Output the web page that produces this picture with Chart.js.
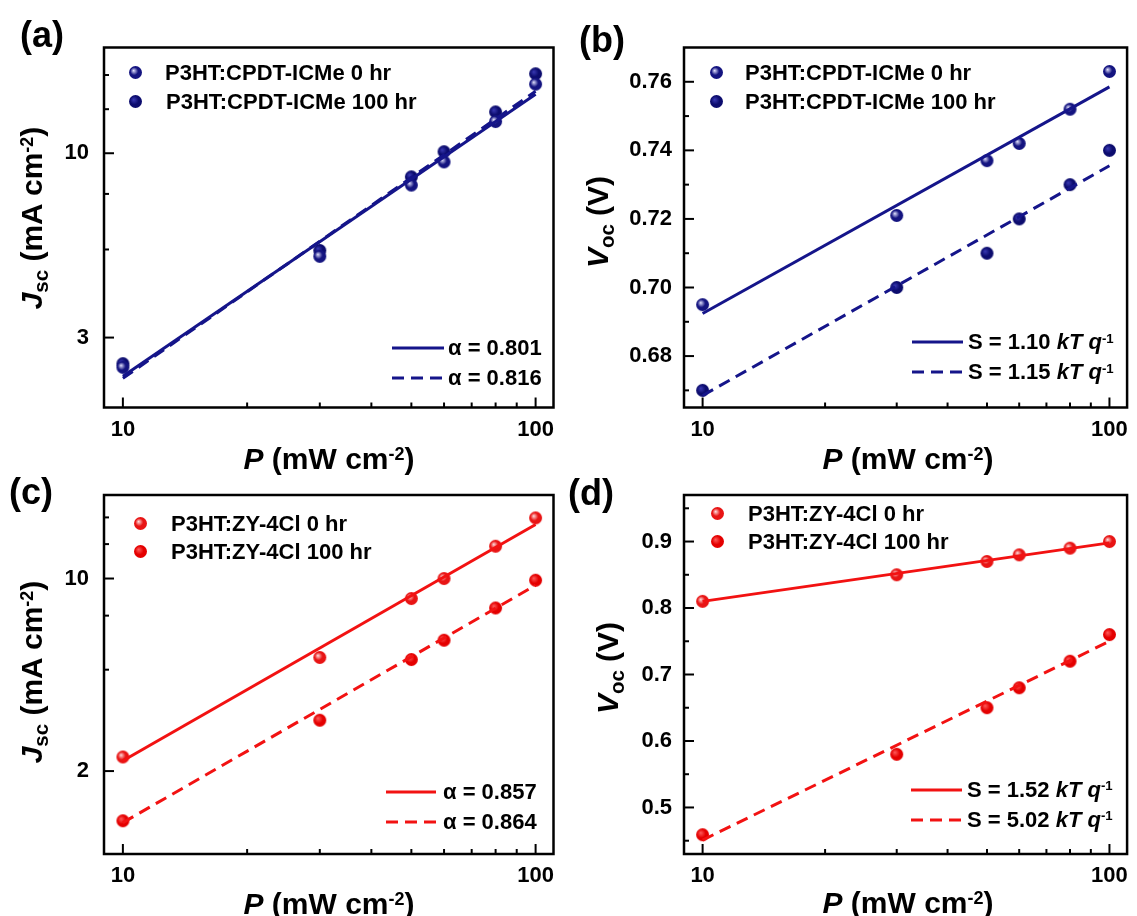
<!DOCTYPE html>
<html>
<head>
<meta charset="utf-8">
<script src="https://cdn.jsdelivr.net/npm/chart.js"></script>
<style>
  body { margin: 0; background: #fff; }
  #wrap { position: relative; width: 1137px; height: 916px; background: #fff; overflow: hidden;
          font-family: "Liberation Sans", Arial, sans-serif; font-weight: bold; color: #000; }
  #wrap canvas.chart { position: absolute; }
  .txt { position: absolute; white-space: nowrap; line-height: 1; }
  .mid { transform: translate(-50%, -50%); }
  .left { transform: translate(0, -50%); }
  .rot { transform: translate(-50%, -50%) rotate(-90deg); }
  .panel { font-size: 36px; }
  .axt { font-size: 30px; }
  .leg { font-size: 22px; }
  .sub { position: relative; top: 0.28em; font-size: 0.68em; }
  .sup { position: relative; top: -0.5em; font-size: 0.6em; }
  .mk { position: absolute; }
  svg.ls { position: absolute; overflow: visible; }
</style>
</head>
<body>
<div id="wrap"></div>
<script>
// x values (light intensity, mW cm-2)
const power = [10, 30, 50, 60, 80, 100];
const fitPower = [10, 100];

// (a) Jsc, P3HT:CPDT-ICMe
const jscCpdt0 = [2.47, 5.10, 8.12, 9.45, 12.3, 15.7];
const jscCpdt100 = [2.53, 5.30, 8.57, 10.1, 13.1, 16.8];
const jscCpdtFit0 = [2.33, 14.7];
const jscCpdtFit100 = [2.30, 15.0];

// (b) Voc, P3HT:CPDT-ICMe
const vocCpdt0 = [0.695, 0.721, 0.737, 0.742, 0.752, 0.763];
const vocCpdt100 = [0.670, 0.700, 0.710, 0.720, 0.730, 0.740];
const vocCpdtFit0 = [0.6924, 0.7585];
const vocCpdtFit100 = [0.6685, 0.7355];

// (c) Jsc, P3HT:ZY-4Cl
const jscZy0 = [2.25, 5.17, 8.46, 10.0, 13.1, 16.6];
const jscZy100 = [1.32, 3.06, 5.08, 5.97, 7.82, 9.86];
const jscZyFit0 = [2.18, 15.7];
const jscZyFit100 = [1.30, 9.45];

// (d) Voc, P3HT:ZY-4Cl
const vocZy0 = [0.81, 0.85, 0.87, 0.88, 0.89, 0.90];
const vocZy100 = [0.459, 0.58, 0.65, 0.68, 0.72, 0.76];
const vocZyFit0 = [0.810, 0.898];
const vocZyFit100 = [0.451, 0.750];

// tick labels
const xTicks = [10, 100];
const xMinor = [20, 30, 40, 50, 60, 70, 80, 90];
const yTicksA = [3, 10];
const yMinorA = [5.333, 7.667, 13.333, 16.667];
const yTicksB = [0.68, 0.70, 0.72, 0.74, 0.76];
const yMinorB = [0.67, 0.69, 0.71, 0.73, 0.75];
const yTicksC = [2, 10];
const yMinorC = [4.667, 7.333, 13.333, 16.667];
const yTicksD = [0.5, 0.6, 0.7, 0.8, 0.9];
const yMinorD = [0.45, 0.55, 0.65, 0.75, 0.85, 0.95];

const NAVY = '#15158a';
const RED = '#f21212';
const FONT = '"Liberation Sans", Arial, sans-serif';

const wrap = document.getElementById('wrap');

// shaded ball markers
function ball(base, hi, r, spread) {
  const c = document.createElement('canvas');
  const s = Math.ceil(2 * r + 2);
  c.width = c.height = s;
  const g = c.getContext('2d');
  const m = s / 2;
  const grd = g.createRadialGradient(m - r * 0.3, m - r * 0.3, 0, m - r * 0.1, m - r * 0.1, r * 1.1);
  grd.addColorStop(0, hi);
  grd.addColorStop(spread, base);
  grd.addColorStop(1, base);
  g.fillStyle = grd;
  g.beginPath();
  g.arc(m, m, r, 0, Math.PI * 2);
  g.fill();
  return c;
}
const balls = {
  navy0: () => ball('#141480', '#e4e4ff', 6.5, 0.55),
  navy100: () => ball('#0c0c6e', '#3a3ab4', 6.5, 0.6),
  red0: () => ball('#e81414', '#ffe0e0', 6.5, 0.55),
  red100: () => ball('#e40000', '#ff5c5c', 6.5, 0.6)
};

function pts(xs, ys) {
  return xs.map((x, i) => ({ x: x, y: ys[i] }));
}

// frame + inward ticks (Origin style)
const frameTicks = {
  id: 'frameTicks',
  afterDraw(chart, args, opts) {
    const { ctx, chartArea: a } = chart;
    const x = chart.scales.x, y = chart.scales.y;
    ctx.save();
    ctx.strokeStyle = '#000';
    ctx.lineWidth = 2;
    function tick(scale, v, len) {
      const p = scale.getPixelForValue(v);
      ctx.beginPath();
      if (scale.isHorizontal()) { ctx.moveTo(p, a.bottom); ctx.lineTo(p, a.bottom - len); }
      else { ctx.moveTo(a.left, p); ctx.lineTo(a.left + len, p); }
      ctx.stroke();
    }
    opts.xMajor.forEach(v => tick(x, v, 10));
    opts.xMinor.forEach(v => tick(x, v, 5));
    opts.yMajor.forEach(v => tick(y, v, 10));
    opts.yMinor.forEach(v => tick(y, v, 5));
    ctx.lineWidth = 2.5;
    ctx.strokeRect(a.left, a.top, a.right - a.left, a.bottom - a.top);
    ctx.restore();
  }
};

function makeChart(p) {
  const cv = document.createElement('canvas');
  cv.className = 'chart';
  cv.width = p.w; cv.height = p.h;
  cv.style.left = p.left + 'px'; cv.style.top = p.top + 'px';
  wrap.appendChild(cv);
  const yLog = p.yType === 'logarithmic';
  return new Chart(cv, {
    type: 'scatter',
    data: {
      datasets: [
        { data: pts(fitPower, p.fit0), showLine: true, borderColor: p.color, borderWidth: 3,
          pointRadius: 0, order: 0 },
        { data: pts(fitPower, p.fit100), showLine: true, borderColor: p.color, borderWidth: 3,
          borderDash: [12, 7], pointRadius: 0, order: 0 },
        { data: pts(power, p.s0), pointStyle: p.ball0(), order: 1 },
        { data: pts(power, p.s100), pointStyle: p.ball100(), order: 2 }
      ]
    },
    options: {
      responsive: false,
      maintainAspectRatio: false,
      animation: false,
      layout: { padding: { left: 0, top: p.area.top, right: p.w - p.area.right, bottom: 0 } },
      plugins: {
        legend: { display: false },
        tooltip: { enabled: false },
        frameTicks: { xMajor: xTicks, xMinor: xMinor, yMajor: p.yTicks, yMinor: p.yMinor }
      },
      scales: {
        x: {
          type: 'logarithmic', min: 9, max: 110.5,
          grid: { display: false, drawTicks: false }, border: { display: false },
          ticks: { color: '#000', padding: 9, maxRotation: 0,
                   font: { family: FONT, size: 22, weight: 'bold' },
                   callback: v => String(v) },
          afterBuildTicks: s => { s.ticks = xTicks.map(v => ({ value: v })); },
          afterFit: s => { s.height = p.h - p.area.bottom; }
        },
        y: {
          type: p.yType, min: p.yMin, max: p.yMax,
          grid: { display: false, drawTicks: false }, border: { display: false },
          ticks: { color: '#000', padding: p.yPad,
                   font: { family: FONT, size: 22, weight: 'bold' },
                   callback: v => yLog ? String(v) : v.toFixed(p.dec) },
          afterBuildTicks: s => { s.ticks = p.yTicks.map(v => ({ value: v })); },
          afterFit: s => { s.width = p.area.left; }
        }
      }
    },
    plugins: [frameTicks]
  });
}

makeChart({ left: 0, top: 0, w: 570, h: 458, area: { left: 104, top: 47.5, right: 553.5, bottom: 407.5 },
  yType: 'logarithmic', yMin: 1.9, yMax: 19.95, yTicks: yTicksA, yMinor: yMinorA, yPad: 15, dec: 0,
  s0: jscCpdt0, s100: jscCpdt100, fit0: jscCpdtFit0, fit100: jscCpdtFit100,
  color: NAVY, ball0: balls.navy0, ball100: balls.navy100 });

makeChart({ left: 570, top: 0, w: 567, h: 458, area: { left: 114, top: 47.5, right: 562.5, bottom: 407.5 },
  yType: 'linear', yMin: 0.665, yMax: 0.770, yTicks: yTicksB, yMinor: yMinorB, yPad: 12, dec: 2,
  s0: vocCpdt0, s100: vocCpdt100, fit0: vocCpdtFit0, fit100: vocCpdtFit100,
  color: NAVY, ball0: balls.navy0, ball100: balls.navy100 });

makeChart({ left: 0, top: 458, w: 570, h: 458, area: { left: 104, top: 37, right: 553.5, bottom: 396 },
  yType: 'logarithmic', yMin: 1.0, yMax: 20.1, yTicks: yTicksC, yMinor: yMinorC, yPad: 15, dec: 0,
  s0: jscZy0, s100: jscZy100, fit0: jscZyFit0, fit100: jscZyFit100,
  color: RED, ball0: balls.red0, ball100: balls.red100 });

makeChart({ left: 570, top: 458, w: 567, h: 458, area: { left: 114, top: 37, right: 562.5, bottom: 396 },
  yType: 'linear', yMin: 0.43, yMax: 0.97, yTicks: yTicksD, yMinor: yMinorD, yPad: 12, dec: 1,
  s0: vocZy0, s100: vocZy100, fit0: vocZyFit0, fit100: vocZyFit100,
  color: RED, ball0: balls.red0, ball100: balls.red100 });

// ---- text overlays ----
function addText(html, cls, x, y) {
  const d = document.createElement('div');
  d.className = 'txt ' + cls;
  d.innerHTML = html;
  d.style.left = x + 'px';
  d.style.top = y + 'px';
  wrap.appendChild(d);
  return d;
}
function addMarker(fn, x, y) {
  const c = fn();
  c.className = 'mk';
  c.style.left = (x - c.width / 2) + 'px';
  c.style.top = (y - c.height / 2) + 'px';
  wrap.appendChild(c);
}
function addLineSample(color, dashed, x1, x2, y) {
  const ns = 'http://www.w3.org/2000/svg';
  const s = document.createElementNS(ns, 'svg');
  s.setAttribute('class', 'ls');
  s.setAttribute('width', x2 - x1);
  s.setAttribute('height', 4);
  s.style.left = x1 + 'px';
  s.style.top = (y - 2) + 'px';
  const l = document.createElementNS(ns, 'line');
  l.setAttribute('x1', 0); l.setAttribute('x2', x2 - x1);
  l.setAttribute('y1', 2); l.setAttribute('y2', 2);
  l.setAttribute('stroke', color);
  l.setAttribute('stroke-width', 3);
  if (dashed) l.setAttribute('stroke-dasharray', '12 7');
  s.appendChild(l);
  wrap.appendChild(s);
}

const xTitle = '<i>P</i> (mW cm<span class="sup">-2</span>)';
const jTitle = '<i>J</i><span class="sub">sc</span> (mA cm<span class="sup">-2</span>)';
const vTitle = '<i>V</i><span class="sub">oc</span> (V)';

// panel letters
addText('(a)', 'panel left', 20, 35);
addText('(b)', 'panel left', 579, 40);
addText('(c)', 'panel left', 9, 492);
addText('(d)', 'panel left', 568, 493);

// axis titles
addText(xTitle, 'axt mid', 329, 459);
addText(xTitle, 'axt mid', 908, 459);
addText(xTitle, 'axt mid', 329, 904);
addText(xTitle, 'axt mid', 908, 903);
addText(jTitle, 'axt rot', 32, 218);
addText(vTitle, 'axt rot', 598, 222);
addText(jTitle, 'axt rot', 32, 672);
addText(vTitle, 'axt rot', 608, 668);

// (a) legends
addMarker(balls.navy0, 135, 72.5);
addMarker(balls.navy100, 135, 101);
addText('P3HT:CPDT-ICMe 0 hr', 'leg left', 165, 73);
addText('P3HT:CPDT-ICMe 100 hr', 'leg left', 166, 101.5);
addLineSample(NAVY, false, 392, 444, 347.7);
addLineSample(NAVY, true, 392, 444, 377.7);
addText('&alpha; = 0.801', 'leg left', 448, 347.7);
addText('&alpha; = 0.816', 'leg left', 448, 377.7);

// (b) legends
addMarker(balls.navy0, 716.5, 72.5);
addMarker(balls.navy100, 716.5, 101);
addText('P3HT:CPDT-ICMe 0 hr', 'leg left', 745, 73);
addText('P3HT:CPDT-ICMe 100 hr', 'leg left', 745, 101.5);
addLineSample(NAVY, false, 912, 963, 342.3);
addLineSample(NAVY, true, 912, 963, 372.3);
addText('S = 1.10 <i>kT q</i><span class="sup">-1</span>', 'leg left', 968, 342.3);
addText('S = 1.15 <i>kT q</i><span class="sup">-1</span>', 'leg left', 968, 372.3);

// (c) legends
addMarker(balls.red0, 140, 523.3);
addMarker(balls.red100, 140, 551.7);
addText('P3HT:ZY-4Cl 0 hr', 'leg left', 171, 523.5);
addText('P3HT:ZY-4Cl 100 hr', 'leg left', 171, 552);
addLineSample(RED, false, 386, 436, 791.7);
addLineSample(RED, true, 386, 436, 821.7);
addText('&alpha; = 0.857', 'leg left', 443, 791.7);
addText('&alpha; = 0.864', 'leg left', 443, 821.7);

// (d) legends
addMarker(balls.red0, 717, 513.3);
addMarker(balls.red100, 717, 541.7);
addText('P3HT:ZY-4Cl 0 hr', 'leg left', 748, 513.5);
addText('P3HT:ZY-4Cl 100 hr', 'leg left', 748, 542);
addLineSample(RED, false, 911, 962, 790);
addLineSample(RED, true, 911, 962, 820);
addText('S = 1.52 <i>kT q</i><span class="sup">-1</span>', 'leg left', 967, 790);
addText('S = 5.02 <i>kT q</i><span class="sup">-1</span>', 'leg left', 967, 820);
</script>
</body>
</html>
